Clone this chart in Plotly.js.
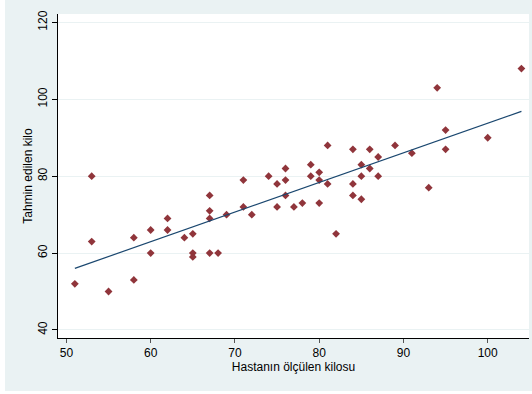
<!DOCTYPE html>
<html>
<head>
<meta charset="utf-8">
<script src="https://cdn.plot.ly/plotly-3.0.1.min.js"></script>
<style>
html,body{margin:0;padding:0;background:#ffffff;}
#chart{position:absolute;left:5px;top:0px;width:527px;height:391px;}
</style>
</head>
<body>
<div id="chart"></div>
<script>
// Measured weight (x) and estimated weight (y)
var measuredKg = [51,53,53,55,58,58,60,60,62,62,64,65,65,65,67,67,67,67,68,69,71,71,72,74,75,75,76,76,76,77,78,79,79,80,80,80,81,81,82,84,84,84,85,85,85,86,86,87,87,89,91,93,94,95,95,100,104];
var estimatedKg = [52,80,63,50,64,53,66,60,69,66,64,65,60,59,75,71,69,60,60,70,79,72,70,80,78,72,82,79,75,72,73,83,80,81,79,73,88,78,65,87,78,75,83,80,74,87,82,85,80,88,86,77,103,92,87,90,108];
var xTicks = [50,60,70,80,90,100];
var yTicks = [40,60,80,100,120];
var xTitle = "Hastanın ölçülen kilosu";
var yTitle = "Tahmin edilen kilo";

// Least-squares fitted line from the data
var n = measuredKg.length, sx=0, sy=0, sxx=0, sxy=0;
for (var i=0;i<n;i++){sx+=measuredKg[i];sy+=estimatedKg[i];sxx+=measuredKg[i]*measuredKg[i];sxy+=measuredKg[i]*estimatedKg[i];}
var slope = (n*sxy - sx*sy)/(n*sxx - sx*sx);
var icpt = (sy - slope*sx)/n;
var xmin = Math.min.apply(null, measuredKg), xmax = Math.max.apply(null, measuredKg);
var fitX = [xmin, xmax];
var fitY = fitX.map(function(v){return icpt + slope*v;});

var traces = [
  {x: measuredKg, y: estimatedKg, type:'scatter', mode:'markers',
   marker:{symbol:'diamond', size:6, color:'#90353b'}, hoverinfo:'skip'},
  {x: fitX, y: fitY, type:'scatter', mode:'lines',
   line:{color:'#1a476f', width:1.2}, hoverinfo:'skip'}
];

var layout = {
  width:527, height:391,
  paper_bgcolor:'#eaf2f3', plot_bgcolor:'#ffffff',
  margin:{l:53, r:3, t:14, b:53},
  showlegend:false,
  font:{family:'Liberation Sans, Arial, sans-serif', size:12, color:'#000000'},
  xaxis:{range:[49.0,104.9], tickvals:xTicks, ticktext:xTicks.map(String),
    showgrid:false, zeroline:false, showline:true, linecolor:'#000000', linewidth:1,
    ticks:'outside', ticklen:4, tickcolor:'#555555', tickfont:{size:12},
    title:{text:xTitle, font:{size:12}, standoff:2}},
  yaxis:{range:[37.9,122.2], tickvals:yTicks, ticktext:yTicks.map(String), tickangle:-90,
    showgrid:true, gridcolor:'#eaf2f3', gridwidth:1, zeroline:false,
    showline:true, linecolor:'#000000', linewidth:1,
    ticks:'outside', ticklen:5, tickcolor:'#000000', tickfont:{size:12},
    title:{text:yTitle, font:{size:12}, standoff:1}}
};
Plotly.newPlot('chart', traces, layout, {displayModeBar:false, staticPlot:true});
</script>
</body>
</html>
